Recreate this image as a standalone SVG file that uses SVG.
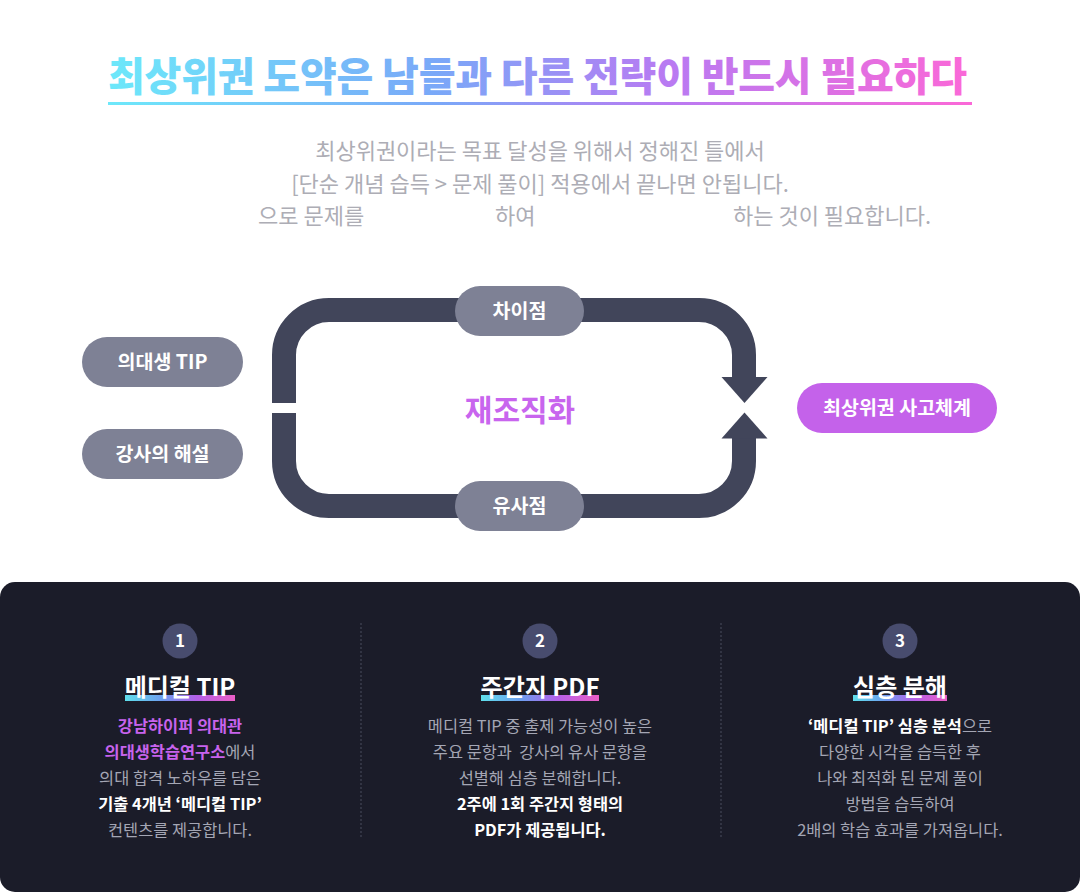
<svg xmlns="http://www.w3.org/2000/svg" width="1080" height="892" viewBox="0 0 1080 892">
  <defs>
    <linearGradient id="titleGrad" gradientUnits="userSpaceOnUse" x1="108" y1="0" x2="972" y2="0">
      <stop offset="0" stop-color="#6de8fa"/>
      <stop offset="0.38" stop-color="#7aa8f8"/>
      <stop offset="0.65" stop-color="#b97af2"/>
      <stop offset="1" stop-color="#fb68d7"/>
    </linearGradient>
    <linearGradient id="barGrad" x1="0" y1="0" x2="1" y2="0">
      <stop offset="0" stop-color="#5fdfec"/>
      <stop offset="0.35" stop-color="#6f9cf0"/>
      <stop offset="0.65" stop-color="#b460e8"/>
      <stop offset="1" stop-color="#ec5ec6"/>
    </linearGradient>
    <style>
      text { font-family: "Noto Sans CJK KR", "Noto Sans", sans-serif; }
      .title { font-size: 40px; font-weight: 900; fill: url(#titleGrad); }
      .sub { font-size: 22px; fill: #adadb5; }
      .pill { fill: #7e8195; }
      .pillText { font-size: 19.5px; font-weight: 700; fill: #ffffff; text-anchor: middle; }
      .loop { fill: none; stroke: #41455a; stroke-width: 24; }
      .head { fill: #41455a; }
      .center { font-size: 30px; font-weight: 700; fill: #c865ee; text-anchor: middle; }
      .num { fill: #484c6e; }
      .numText { font-size: 17px; font-weight: 700; fill: #ffffff; text-anchor: middle; }
      .colTitle { font-size: 24px; font-weight: 700; fill: #ffffff; text-anchor: middle; }
      .body { font-size: 16.4px; fill: #a4a6b4; text-anchor: middle; }
      .purple { fill: #c763ed; font-weight: 700; }
      .white { fill: #ffffff; font-weight: 700; }
      .divider { stroke: #4b4d5e; stroke-width: 1; stroke-dasharray: 2 2; }
    </style>
  </defs>

  <rect width="1080" height="892" fill="#ffffff"/>

  <g id="title">
    <text class="title" x="108" y="91" textLength="859" lengthAdjust="spacing">최상위권 도약은 남들과 다른 전략이 반드시 필요하다</text>
    <rect x="108" y="102" width="864" height="3" fill="url(#titleGrad)"/>
  </g>

  <g id="subtitle">
    <text class="sub" x="540" y="159" text-anchor="middle">최상위권이라는 목표 달성을 위해서 정해진 틀에서</text>
    <text class="sub" x="540" y="192" text-anchor="middle">[단순 개념 습득 &gt; 문제 풀이] 적용에서 끝나면 안됩니다.</text>
    <text class="sub" x="258" y="224">으로 문제를</text>
    <text class="sub" x="495" y="224">하여</text>
    <text class="sub" x="733" y="224">하는 것이 필요합니다.</text>
  </g>

  <g id="connectors">
    <path class="loop" d="M284,403 V355 A45,45 0 0 1 329,310 H699 A45,45 0 0 1 744,355 V378"/>
    <polygon class="head" points="721.5,377 767.5,377 744.5,403"/>
    <path class="loop" d="M284,413 V461 A45,45 0 0 0 329,506 H699 A45,45 0 0 0 744,461 V438"/>
    <polygon class="head" points="721.5,438.5 767.5,438.5 744.5,412.5"/>
  </g>

  <g id="node-tip">
    <rect class="pill" x="82" y="337" width="161" height="50" rx="25"/>
    <text class="pillText" x="162.5" y="369">의대생 TIP</text>
  </g>
  <g id="node-haeseol">
    <rect class="pill" x="82" y="429" width="161" height="50" rx="25"/>
    <text class="pillText" x="162.5" y="461">강사의 해설</text>
  </g>
  <g id="node-chaijeom">
    <rect class="pill" x="455" y="286" width="129" height="50" rx="25"/>
    <text class="pillText" x="519.5" y="318">차이점</text>
  </g>
  <g id="node-yusajeom">
    <rect class="pill" x="455" y="481" width="129" height="50" rx="25"/>
    <text class="pillText" x="519.5" y="513">유사점</text>
  </g>
  <g id="node-center">
    <text class="center" x="520" y="421">재조직화</text>
  </g>
  <g id="node-result">
    <rect x="797" y="383" width="200" height="50" rx="25" fill="#c462ea"/>
    <text class="pillText" x="897" y="415">최상위권 사고체계</text>
  </g>

  <g id="panel">
    <rect x="0" y="582" width="1080" height="310" rx="15" fill="#1b1c29"/>
    <line class="divider" x1="361" y1="623" x2="361" y2="838"/>
    <line class="divider" x1="721" y1="623" x2="721" y2="838"/>
  </g>

  <g id="col-1">
    <circle class="num" cx="180" cy="641" r="17.5"/>
    <text class="numText" x="180" y="647">1</text>
    <rect x="125" y="695" width="110" height="6" fill="url(#barGrad)"/>
    <text class="colTitle" x="180" y="696">메디컬 TIP</text>
    <text class="body" x="180" y="731.5"><tspan class="purple">강남하이퍼 의대관</tspan></text>
    <text class="body" x="180" y="757.5"><tspan class="purple">의대생학습연구소</tspan>에서</text>
    <text class="body" x="180" y="783.5">의대 합격 노하우를 담은</text>
    <text class="body" x="180" y="809.5"><tspan class="white">기출 4개년 ‘메디컬 TIP’</tspan></text>
    <text class="body" x="180" y="835.5">컨텐츠를 제공합니다.</text>
  </g>

  <g id="col-2">
    <circle class="num" cx="540" cy="641" r="17.5"/>
    <text class="numText" x="540" y="647">2</text>
    <rect x="481" y="695" width="118" height="6" fill="url(#barGrad)"/>
    <text class="colTitle" x="540" y="696">주간지 PDF</text>
    <text class="body" x="540" y="731.5">메디컬 TIP 중 출제 가능성이 높은</text>
    <text class="body" x="540" y="757.5">주요 문항과&#160; 강사의 유사 문항을</text>
    <text class="body" x="540" y="783.5">선별해 심층 분해합니다.</text>
    <text class="body" x="540" y="809.5"><tspan class="white">2주에 1회 주간지 형태의</tspan></text>
    <text class="body" x="540" y="835.5"><tspan class="white">PDF가 제공됩니다.</tspan></text>
  </g>

  <g id="col-3">
    <circle class="num" cx="900" cy="641" r="17.5"/>
    <text class="numText" x="900" y="647">3</text>
    <rect x="853" y="695" width="94" height="6" fill="url(#barGrad)"/>
    <text class="colTitle" x="900" y="696">심층 분해</text>
    <text class="body" x="900" y="731.5"><tspan class="white">‘메디컬 TIP’ 심층 분석</tspan>으로</text>
    <text class="body" x="900" y="757.5">다양한 시각을 습득한 후</text>
    <text class="body" x="900" y="783.5">나와 최적화 된 문제 풀이</text>
    <text class="body" x="900" y="809.5">방법을 습득하여</text>
    <text class="body" x="900" y="835.5">2배의 학습 효과를 가져옵니다.</text>
  </g>
</svg>
